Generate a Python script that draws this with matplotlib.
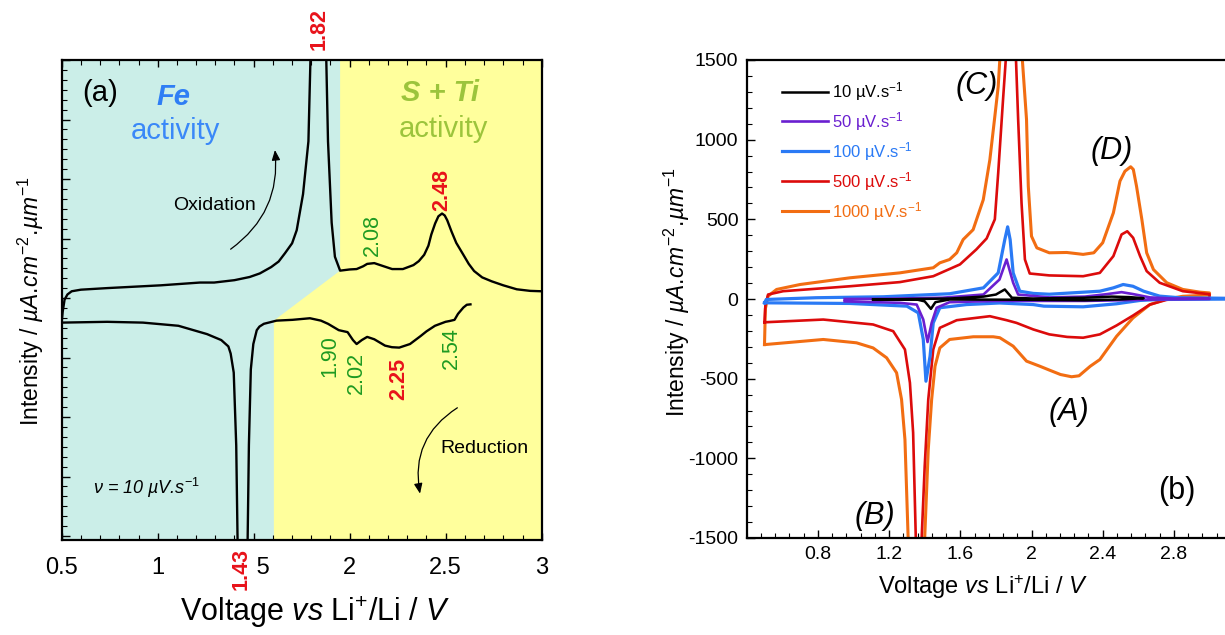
import numpy as np
import matplotlib
matplotlib.use("Agg")
import matplotlib.pyplot as plt
from matplotlib.ticker import MultipleLocator
from matplotlib.patches import FancyArrowPatch

plt.rcParams['font.family'] = ['Liberation Sans', 'DejaVu Sans']
plt.rcParams['mathtext.fontset'] = 'custom'
plt.rcParams['mathtext.rm'] = 'Liberation Sans'
plt.rcParams['mathtext.it'] = 'Liberation Sans:italic'
plt.rcParams['mathtext.bf'] = 'Liberation Sans:bold'
plt.rcParams['mathtext.default'] = 'regular'
plt.rcParams['axes.unicode_minus'] = False

# ---------------- Panel (a): 10 uV/s CV (arbitrary units) ----------------
a_ox_v = [0.50, 0.505, 0.515, 0.53, 0.552, 0.60, 0.737, 1.016, 1.22, 1.294, 1.40, 1.479, 1.532,
          1.591, 1.63, 1.663, 1.70, 1.724, 1.757, 1.785, 1.84, 1.887, 1.906, 1.923, 1.95,
          2.0, 2.036, 2.07, 2.091, 2.128, 2.165, 2.221, 2.277, 2.332, 2.36, 2.388, 2.41,
          2.425, 2.445, 2.462, 2.481, 2.495, 2.508, 2.53, 2.555, 2.592, 2.62, 2.648, 2.69,
          2.74, 2.80, 2.87, 2.94, 3.0]
a_ox_i = [-3.0, -0.5, 2.6, 3.9, 4.7, 5.1, 5.5, 6.2, 6.9, 6.9, 7.5, 8.3, 9.2,
          10.8, 12.2, 14.3, 16.8, 20.1, 29.2, 42.5, 150, 42.5, 22.0, 13.4, 9.9,
          10.2, 10.3, 11.0, 11.6, 11.8, 11.2, 10.3, 10.3, 11.3, 12.3, 13.9, 16.2,
          19.0, 21.8, 23.6, 24.3, 23.8, 22.6, 19.8, 16.9, 13.9, 11.6, 9.8, 8.2,
          7.2, 6.2, 5.2, 4.8, 4.7]
a_red_v = [2.629, 2.61, 2.592, 2.564, 2.546, 2.52, 2.499, 2.444, 2.40, 2.369, 2.314, 2.258,
           2.22, 2.184, 2.128, 2.091, 2.063, 2.036, 2.017, 1.989, 1.943, 1.887, 1.85, 1.793,
           1.702, 1.619, 1.553, 1.53, 1.516, 1.498, 1.485, 1.475, 1.443, 1.409, 1.396,
           1.38, 1.368, 1.331, 1.257, 1.108, 0.923, 0.737, 0.5]
a_red_i = [1.4, 1.3, 0.6, -1.0, -2.5, -2.8, -3.0, -4.0, -5.4, -6.6, -8.6, -9.5,
           -9.4, -9.0, -7.4, -6.8, -7.6, -8.6, -7.6, -5.6, -5.1, -3.5, -2.7, -2.1,
           -2.5, -2.7, -3.5, -4.2, -5.1, -8.6, -15.0, -34.0, -150, -34.2, -15.8,
           -11.0, -9.2, -7.6, -6.1, -4.0, -3.2, -3.0, -3.2]

fe_region_end = 1.95          # Fe / (S+Ti) boundary, oxidation side
sti_region_start = 1.605      # boundary on reduction side
boundary_ox_i = 9.9
boundary_red_i = -2.7

# ---------------- Panel (b): scan-rate series ----------------
rates = ["10", "50", "100", "500", "1000"]
colors = ["#000000", "#6a1fd0", "#2a7af5", "#dc0b0b", "#f26d12"]

v10_ox = [1.11, 1.35, 1.54, 1.73, 1.80, 1.85, 1.89, 2.01, 2.3, 2.45, 2.55, 2.63]
i10_ox = [-3, 0, 3, 15, 28, 60, 8, 3, 8, 15, 12, 5]
v10_red = [2.63, 2.5, 2.3, 2.0, 1.54, 1.46, 1.435, 1.40, 1.355, 1.11]
i10_red = [5, -3, -8, -5, -3, -20, -62, -15, -3, -3]

v50_ox = [0.95, 1.2, 1.5, 1.73, 1.82, 1.86, 1.897, 1.925, 2.1, 2.3, 2.42, 2.506, 2.57, 2.665, 2.8, 3.0]
i50_ox = [0, 2, 8, 28, 122, 248, 102, 28, 10, 15, 30, 43, 31, 10, 3, 2]
v50_red = [3.0, 2.7, 2.5, 2.3, 2.0, 1.8, 1.54, 1.467, 1.439, 1.416, 1.392, 1.355, 1.26, 0.95]
i50_red = [0, -3, -8, -12, -12, -12, -20, -55, -150, -270, -129, -35, -24, -15]

v100_ox = [0.50, 0.51, 0.79, 1.167, 1.54, 1.73, 1.813, 1.85, 1.866, 1.88, 1.897, 1.934,
           2.01, 2.1, 2.384, 2.46, 2.515, 2.57, 2.63, 2.72, 2.83, 3.2]
i100_ox = [-24, -3, 8, 14, 33, 70, 164, 373, 453, 373, 164, 49,
           35, 30, 49, 70, 91, 80, 49, 18, 8, 3]
v100_red = [3.2, 2.72, 2.61, 2.478, 2.29, 2.07, 2.01, 1.82, 1.635, 1.485, 1.448, 1.43,
            1.407, 1.392, 1.364, 1.30, 0.98, 0.51, 0.50]
i100_red = [0, -3, -9, -30, -49, -45, -35, -25, -35, -55, -150, -359,
            -516, -254, -87, -45, -28, -24, -24]

v500_ox = [0.50, 0.505, 0.52, 0.605, 0.98, 1.26, 1.448, 1.598, 1.69, 1.748, 1.794, 1.813,
           1.84, 1.88, 1.90, 1.925, 1.944, 1.963, 1.99, 2.10, 2.29, 2.384, 2.46, 2.506,
           2.538, 2.571, 2.61, 2.647, 2.72, 2.85, 3.0]
i500_ox = [-146, -40, 28, 49, 80, 106, 143, 217, 311, 380, 500, 792,
           1250, 1900, 1900, 1127, 603, 248, 160, 148, 143, 164, 269, 405,
           425, 384, 269, 175, 102, 49, 30]
v500_red = [3.0, 2.85, 2.76, 2.665, 2.57, 2.478, 2.384, 2.29, 2.20, 2.10, 2.01, 1.916,
            1.86, 1.766, 1.58, 1.485, 1.448, 1.42, 1.40, 1.383, 1.365, 1.35, 1.335,
            1.317, 1.289, 1.223, 1.11, 0.83, 0.502, 0.50]
i500_red = [5, 2, -5, -35, -104, -166, -222, -243, -238, -222, -191, -150,
            -133, -108, -133, -181, -317, -631, -1050, -1500, -2000, -1500, -840,
            -526, -317, -202, -160, -129, -146, -146]

v1000_ox = [0.50, 0.505, 0.52, 0.568, 0.70, 0.98, 1.26, 1.448, 1.485, 1.54, 1.58, 1.616,
            1.672, 1.729, 1.766, 1.794, 1.813, 1.88, 1.972, 1.982, 2.0, 2.03, 2.10, 2.198,
            2.29, 2.35, 2.40, 2.46, 2.497, 2.525, 2.557, 2.572, 2.59, 2.62, 2.647, 2.685,
            2.76, 2.85, 2.946, 3.0]
i1000_ox = [-286, -60, 18, 60, 91, 133, 164, 196, 227, 248, 290, 373,
            435, 623, 874, 1146, 1334, 2600, 1127, 708, 394, 321, 290, 292,
            280, 290, 353, 541, 740, 802, 830, 813, 708, 499, 290, 185,
            102, 60, 43, 38]
v1000_red = [3.0, 2.85, 2.76, 2.665, 2.57, 2.478, 2.384, 2.33, 2.267, 2.225, 2.163, 2.10,
             2.047, 1.972, 1.897, 1.822, 1.785, 1.673, 1.54, 1.485, 1.458, 1.439, 1.42,
             1.40, 1.37, 1.307, 1.289, 1.27, 1.242, 1.186, 1.11, 1.017, 0.83, 0.502, 0.50]
i1000_red = [25, 17, 0, -35, -119, -234, -380, -422, -482, -488, -474, -446,
             -422, -390, -296, -243, -237, -237, -254, -307, -422, -631, -945,
             -1500, -2300, -1500, -882, -631, -463, -369, -307, -275, -254, -286, -286]

series_v = [(v10_ox, v10_red), (v50_ox, v50_red), (v100_ox, v100_red),
            (v500_ox, v500_red), (v1000_ox, v1000_red)]
series_i = [(i10_ox, i10_red), (i50_ox, i50_red), (i100_ox, i100_red),
            (i500_ox, i500_red), (i1000_ox, i1000_red)]
widths = [1.8, 1.9, 2.3, 1.9, 2.2]

# ---------------- Figure ----------------
W, H = 1225, 635
fig = plt.figure(figsize=(W / 100, H / 100), dpi=100)

# ---- panel (a)
axa = fig.add_axes([61.7 / W, 1 - 540 / H, 480 / W, 480 / H])
ya_lo, ya_hi = -58, 63
axa.set_xlim(0.5, 3.0)
axa.set_ylim(ya_lo, ya_hi)
cyan = "#cbeee8"
yellow = "#ffff9c"
axa.set_facecolor(cyan)
axa.fill([fe_region_end, 3.0, 3.0, sti_region_start, sti_region_start, fe_region_end],
         [ya_hi, ya_hi, ya_lo, ya_lo, boundary_red_i, boundary_ox_i],
         color=yellow, lw=0, zorder=0.5)
axa.plot(a_ox_v, a_ox_i, color="black", lw=1.7, zorder=3)
axa.plot(a_red_v, a_red_i, color="black", lw=1.7, zorder=3)

axa.set_xticks([0.5, 1, 1.5, 2, 2.5, 3])
axa.set_xticklabels(["0.5", "1", "1.5", "2", "2.5", "3"])
axa.xaxis.set_minor_locator(MultipleLocator(0.1))
axa.yaxis.set_major_locator(MultipleLocator(15, offset=3))
axa.yaxis.set_minor_locator(MultipleLocator(2.5, offset=0.5))
axa.tick_params(axis='x', which='both', direction='in', top=True, bottom=True,
                labelsize=17, pad=12)
axa.tick_params(axis='x', which='major', length=5, width=1.0)
axa.tick_params(axis='x', which='minor', length=3.5, width=0.8)
axa.tick_params(axis='y', which='both', direction='in', left=True, right=False, labelleft=False)
axa.tick_params(axis='y', which='major', length=6, width=1.0)
axa.tick_params(axis='y', which='minor', length=3.5, width=0.8)
for s in axa.spines.values():
    s.set_linewidth(1.6)

red_lbl = "#e8121a"
green_lbl = "#1e9a22"
axa.text(0.70, 54.8, "(a)", fontsize=21, ha="center", va="center")
axa.text(1.084, 53.7, "Fe", fontsize=21, fontweight="bold", fontstyle="italic",
         color="#2f7ef5", ha="center", va="center")
axa.text(1.09, 45.0, "activity", fontsize=21, color="#3a88f8", ha="center", va="center")
axa.text(2.47, 54.8, "S + Ti", fontsize=21, fontweight="bold", fontstyle="italic",
         color="#9cc43c", ha="center", va="center")
axa.text(2.49, 45.6, "activity", fontsize=21, color="#9cc43c", ha="center", va="center")
axa.text(1.294, 26.4, "Oxidation", fontsize=14, ha="center", va="center")
axa.text(2.703, -35.0, "Reduction", fontsize=14, ha="center", va="center")
axa.text(0.941, -45.0, r"ν = 10 µV.s$^{\mathit{-1}}$", fontsize=13, fontstyle="italic",
         ha="center", va="center")

num_lbls = [("1.82", 1.84, 70.7, red_lbl, "bold"),
            ("2.48", 2.481, 30.2, red_lbl, "bold"),
            ("2.08", 2.119, 19.0, green_lbl, "normal"),
            ("1.90", 1.897, -11.7, green_lbl, "normal"),
            ("2.02", 2.036, -15.8, green_lbl, "normal"),
            ("2.25", 2.254, -17.3, red_lbl, "bold"),
            ("2.54", 2.527, -9.7, green_lbl, "normal")]
for t, x, y, c, w in num_lbls:
    axa.text(x, y, t, rotation=90, fontsize=15.5, color=c, fontweight=w,
             ha="center", va="center", clip_on=False)
axa.text(1.435, -65.3, "1.43", rotation=90, fontsize=15.5, color=red_lbl, fontweight="bold",
         ha="center", va="center", clip_on=False, zorder=10,
         bbox=dict(facecolor="white", edgecolor="none", pad=3.5))

arr1 = FancyArrowPatch((1.368, 14.9), (1.609, 41.0), connectionstyle="arc3,rad=0.3",
                       arrowstyle="-|>,head_length=6,head_width=2.5", lw=0.9, color="black",
                       zorder=4)
axa.add_patch(arr1)
arr2 = FancyArrowPatch((2.573, -24.3), (2.369, -47.0), connectionstyle="arc3,rad=0.35",
                       arrowstyle="-|>,head_length=6,head_width=2.5", lw=0.9, color="black",
                       zorder=4)
axa.add_patch(arr2)

ylab = r"Intensity / $\mathit{µA.\!cm^{-2}.\!µm^{-1}}$"
xlab = r"Voltage $\mathit{vs}$ Li$^{+}$/Li / $\mathit{V}$"
fig.text(31 / W, 1 - 301 / H, ylab, rotation=90, fontsize=16.5, ha="center", va="center")
fig.text(315 / W, 1 - 612 / H, xlab, fontsize=22, ha="center", va="center")

# ---- panel (b)
axb = fig.add_axes([746.7 / W, 1 - 538 / H, 2.8 * 178 / W, 478 / H])
axb.set_xlim(0.4, 3.2)
axb.set_ylim(-1500, 1500)
lines = {}
for k in [4, 3, 2, 1, 0]:
    vo, vr = series_v[k]
    io, ir = series_i[k]
    ln, = axb.plot(list(vo) + list(vr), list(io) + list(ir), color=colors[k],
                   lw=widths[k], label=rates[k] + r" µV.s$^{-1}$", zorder=2 + (4 - k) * 0.1)
    lines[k] = ln
axb.legend(handles=[lines[k] for k in range(5)], loc="upper left",
           bbox_to_anchor=(0.07, 0.958), frameon=False, fontsize=12,
           labelcolor="linecolor", handlelength=2.8, handletextpad=0.2,
           labelspacing=0.42, borderaxespad=0, borderpad=0)

axb.set_xticks([0.8, 1.2, 1.6, 2.0, 2.4, 2.8])
axb.set_xticklabels(["0.8", "1.2", "1.6", "2", "2.4", "2.8"])
axb.xaxis.set_minor_locator(MultipleLocator(0.08))
axb.yaxis.set_major_locator(MultipleLocator(500))
axb.yaxis.set_minor_locator(MultipleLocator(100))
axb.tick_params(axis='both', which='both', direction='in', top=False, right=False,
                labelsize=14, pad=6)
axb.tick_params(axis='both', which='major', length=6, width=1.0)
axb.tick_params(axis='both', which='minor', length=3.5, width=0.8)
for s in axb.spines.values():
    s.set_linewidth(1.6)

axb.text(1.69, 1336, "(C)", fontsize=22, fontstyle="italic", ha="center", va="center")
axb.text(2.45, 928, "(D)", fontsize=22, fontstyle="italic", ha="center", va="center")
axb.text(2.21, -708, "(A)", fontsize=22, fontstyle="italic", ha="center", va="center")
axb.text(1.12, -1363, "(B)", fontsize=22, fontstyle="italic", ha="center", va="center")
axb.text(2.817, -1208, "(b)", fontsize=22, ha="center", va="center")

fig.text(677 / W, 1 - 292 / H, ylab, rotation=90, fontsize=16.5, ha="center", va="center")
fig.text(983 / W, 1 - 587 / H, xlab, fontsize=17, ha="center", va="center")

fig.savefig("out.png", dpi=100)
